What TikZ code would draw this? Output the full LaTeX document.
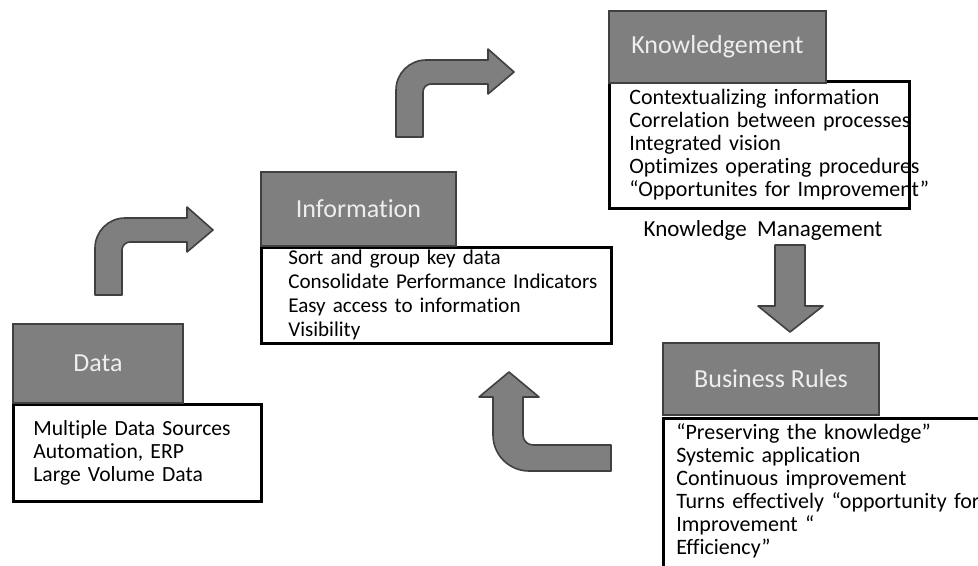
\documentclass[tikz,border=0pt]{standalone}
\usepackage{fontspec}
\setmainfont{Carlito}[Ligatures=NoCommon]
\definecolor{hdrfill}{HTML}{7F7F7F}
\definecolor{hdrline}{HTML}{404040}
\definecolor{hdrtext}{HTML}{EEEEEE}
\tikzset{hdr/.style={draw=hdrline, line width=1.5pt, fill=hdrfill, text=hdrtext, font=\fontsize{19.5}{22}\selectfont, anchor=north west, inner sep=0pt}}
\tikzset{body/.style={draw=black, line width=2pt, fill=white, anchor=north west, align=left, inner ysep=0pt, font=\fontsize{16.5}{17.25}\selectfont}}
\tikzset{blockarrow/.style={draw=hdrline, line width=1.2pt, fill=hdrfill, line join=round}}
\tikzset{bentarrow/.pic={\draw[blockarrow] (0,0) -- (0,47) arc[start angle=180, end angle=90, radius=30] -- (92,77) -- (92,88) -- (118,65) -- (92,43) -- (92,53) -- (35,53) arc[start angle=90, end angle=180, radius=8] -- (27,0) -- cycle;}}

\begin{document}
\begin{tikzpicture}[x=0.75pt, y=0.75pt]
	\useasboundingbox (0,0) rectangle (978,-565);
	
	% data
	\node[body, inner xsep=15pt, text width=156pt, minimum height=72.75pt, font=\fontsize{16.2}{17.25}\selectfont] (dataB) at (12,-403){Multiple Data Sources\\Automation, ERP\\Large Volume Data};
	\node[hdr, minimum width=127.5pt, minimum height=59.25pt] (dataH) at (12,-323){Data};
	
	% information
	\node[body, inner xsep=20.25pt, text width=222pt, minimum height=72pt, font=\fontsize{15.8}{18}\selectfont] (infoB) at (260,-246){Sort and group key data\\\mbox{Consolidate Performance Indicators}\\Easy access to information\\Visibility};
	\node[hdr, minimum width=146.25pt, minimum height=55.5pt] (infoH) at (260,-171){Information};
	
	% knowledgement
	\node[body, inner xsep=15pt, text width=195pt, minimum height=95.25pt] (knowB) at (608,-80){Contextualizing information\\\mbox{Correlation between processes}\\Integrated vision\\\mbox{Optimizes operating procedures}\\\mbox{“Opportunites for Improvement”}};
	\node[hdr, minimum width=162.75pt, minimum height=54pt] (knowH) at (608,-10){Knowledgement};
	\node[font=\fontsize{17.25}{18}\selectfont, inner sep=0pt] (kmLabel) at (763,-230){Knowledge~~Management};
	
	% business rules
	\node[body, inner xsep=9.75pt, inner ysep=4pt, text width=235.5pt, text depth=130pt] (brB) at (662,-417){“Preserving the knowledge”\\Systemic application\\Continuous improvement\\Turns effectively “opportunity for\\Improvement “\\Efficiency”};
	\node[hdr, minimum width=162pt, minimum height=54pt] (brH) at (662,-342){Business Rules};
	
	% arrows
	\pic at (95,-295) {bentarrow};
	\pic at (396,-137) {bentarrow};
	\draw[blockarrow] (775,-245) -- (805,-245) -- (805,-306) -- (823,-306) -- (790,-332) -- (758,-306) -- (775,-306) -- cycle;
	\draw[blockarrow] (611,-445) -- (533,-445) arc[start angle=270, end angle=180, radius=10] -- (523,-397) -- (539,-397) -- (509,-372) -- (479,-397) -- (493,-397) -- (493,-435) arc[start angle=180, end angle=270, radius=36] -- (611,-471) -- cycle;
\end{tikzpicture}
\end{document}
